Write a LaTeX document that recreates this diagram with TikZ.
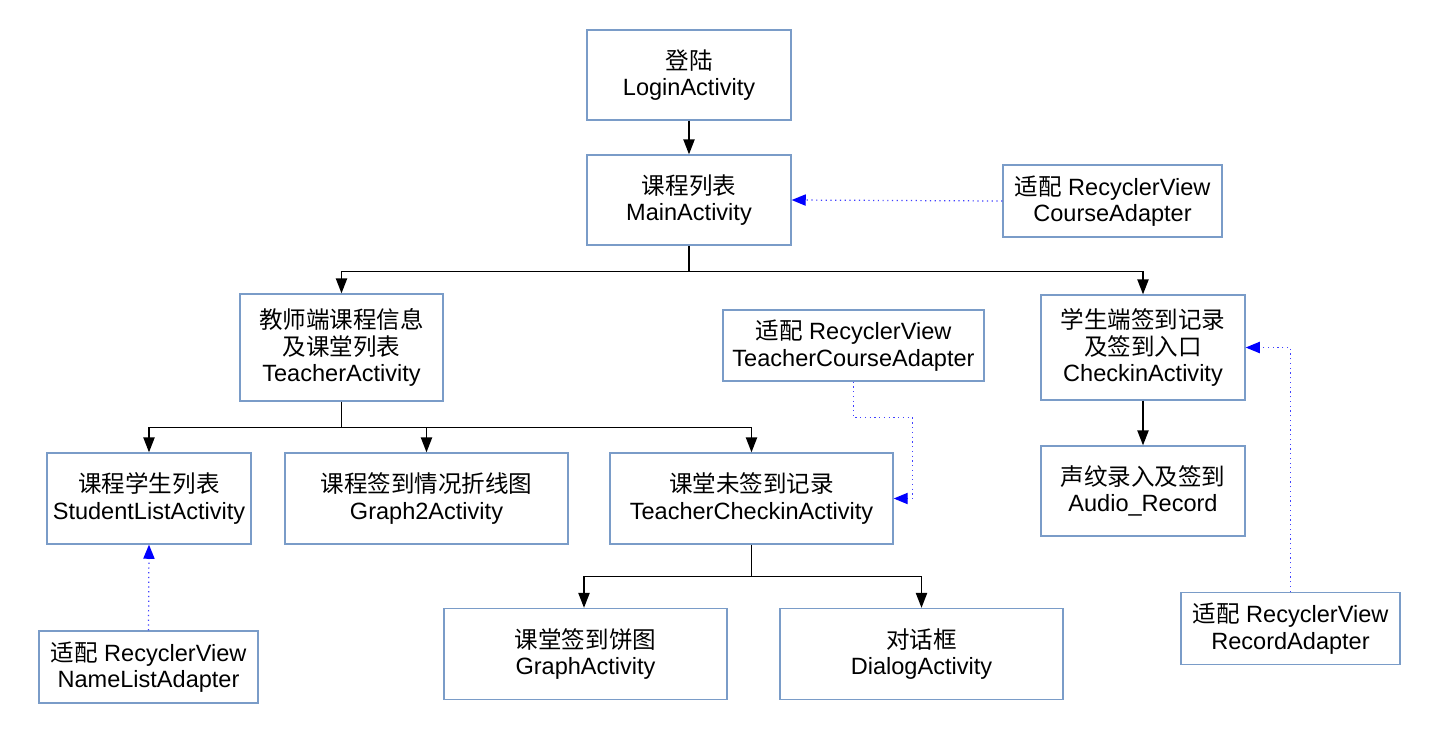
\documentclass[tikz,border=0pt]{standalone}
\usepackage{fontspec}
\setmainfont{Liberation Sans}
\newfontfamily\cjk{Noto Sans CJK SC}
\usepackage{xcolor}
\usepackage{tikz}
\usetikzlibrary{arrows.meta,positioning,calc}
\definecolor{boxblue}{HTML}{7A9CC8}

\begin{document}
\begin{tikzpicture}[x=0.02cm, y=-0.02cm,
    box/.style={draw=boxblue, line width=0.8pt, align=center, inner sep=2pt,
      font=\fontsize{13.4}{15.2}\selectfont},
    act/.style={box, minimum width=4.08cm, minimum height=1.8cm},
    wide/.style={box, minimum width=5.66cm, minimum height=1.82cm},
    adp/.style={box, minimum width=4.38cm, minimum height=1.44cm},
    link/.style={line width=0.8pt, -{Triangle[length=8.5pt,width=6.4pt]}},
    uses/.style={blue!75, dotted, line width=0.7pt,
      -{Triangle[length=8pt,width=6.4pt,blue]}}]

  \useasboundingbox (0,0) rectangle (1440,735);

  % Activities
  \node[act] (login) at (689,75) {{\cjk 登陆}\\LoginActivity};
  \node[act] (main) at (689,200) {{\cjk 课程列表}\\MainActivity};
  \node[act, minimum width=4.06cm, minimum height=2.14cm] (teacher) at (341.5,347.5)
    {{\cjk 教师端课程信息}\\{\cjk 及课堂列表}\\TeacherActivity};
  \node[act, minimum height=2.1cm] (checkin) at (1143,347.5)
    {{\cjk 学生端签到记录}\\{\cjk 及签到入口}\\CheckinActivity};
  \node[act, minimum height=1.82cm] (slist) at (149,498.5)
    {{\cjk 课程学生列表}\\StudentListActivity};
  \node[wide] (graph2) at (426.5,498.5) {{\cjk 课程签到情况折线图}\\Graph2Activity};
  \node[wide] (tcheck) at (751.5,498.5) {{\cjk 课堂未签到记录}\\TeacherCheckinActivity};
  \node[act] (audio) at (1143,491) {{\cjk 声纹录入及签到}\\Audio\_Record};
  \node[wide] (graph) at (585.5,654) {{\cjk 课堂签到饼图}\\GraphActivity};
  \node[wide] (dialog) at (921.5,654) {{\cjk 对话框}\\DialogActivity};

  % Adapters
  \node[adp] (cadp) at (1112.5,201) {{\cjk 适配} RecyclerView\\CourseAdapter};
  \node[adp, minimum width=5.22cm, minimum height=1.42cm] (tadp) at (853.5,345.5)
    {{\cjk 适配} RecyclerView\\TeacherCourseAdapter};
  \node[adp] (nadp) at (148.5,667) {{\cjk 适配} RecyclerView\\NameListAdapter};
  \node[adp] (radp) at (1290.5,628.5) {{\cjk 适配} RecyclerView\\RecordAdapter};

  % Tree links
  \draw[link] (login) -- (main);
  \draw[line width=0.8pt] (main.south) -- ++(0,26) coordinate (mj);
  \draw[link] (mj) -| (teacher.north);
  \draw[link] (mj) -| (checkin.north);
  \draw[line width=0.8pt] (teacher.south) -- ++(0,26) coordinate (tj);
  \draw[link] (tj) -| (slist.north);
  \draw[link] (tj) -| (graph2.north);
  \draw[link] (tj) -| (tcheck.north);
  \draw[line width=0.8pt] (tcheck.south) -- ++(0,32) coordinate (cj);
  \draw[link] (cj) -| ([xshift=-0.03cm]graph.north);
  \draw[link] (cj) -| (dialog.north);
  \draw[link] (checkin) -- (audio);

  % Adapter links
  \draw[uses] (cadp.west) -- (main.east);
  \draw[uses] (tadp.south) -- ++(0,36) -- ++(59,0) |- (tcheck.east);
  \draw[uses] (nadp.north) -- (slist.south);
  \draw[uses] (radp.north) |- (checkin.east);

\end{tikzpicture}
\end{document}
